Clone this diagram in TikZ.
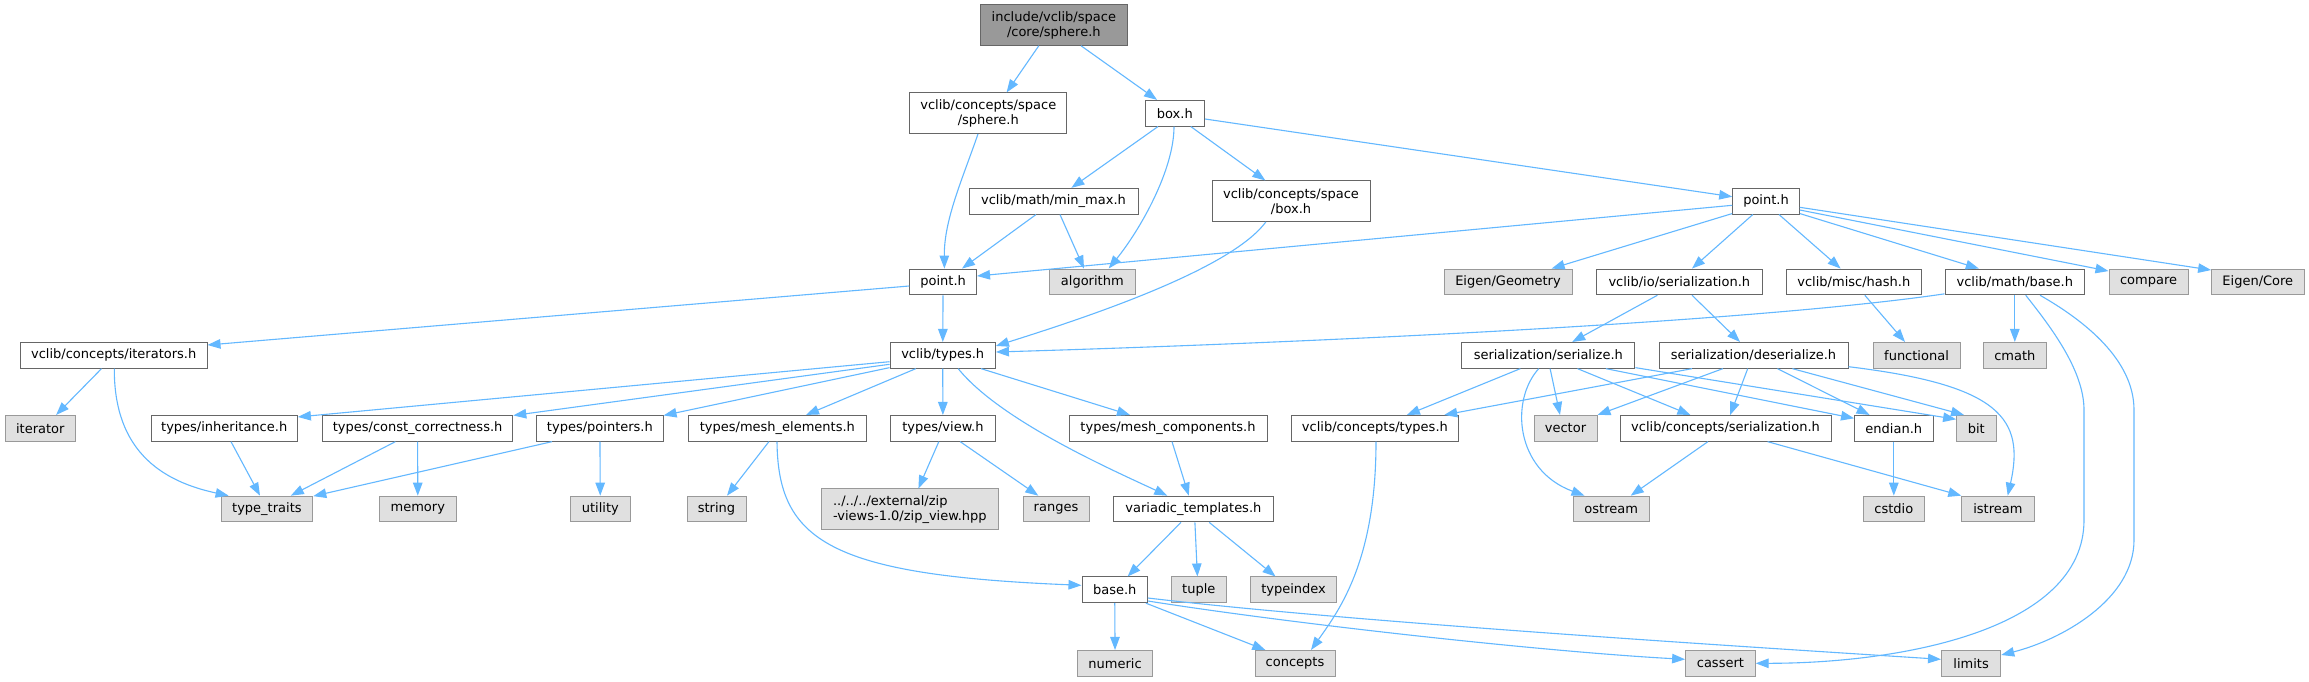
\documentclass[tikz,border=0pt]{standalone}
\usepackage{fontspec}
\setmainfont{DejaVu Sans}
\usetikzlibrary{arrows.meta}
\definecolor{edgec}{HTML}{63B8FF}
\definecolor{nodedraw}{HTML}{666666}
\definecolor{extdraw}{HTML}{999999}
\definecolor{extfill}{HTML}{E0E0E0}
\definecolor{rootfill}{HTML}{999999}
\begin{document}
\begin{tikzpicture}[x=1pt,y=1pt,
 bx/.style={rectangle, inner sep=0pt, line width=1pt, minimum height=25.7pt, font=\fontsize{13}{15}\selectfont, text=black},
 nrm/.style={bx, fill=white, draw=nodedraw},
 ext/.style={bx, fill=extfill, draw=extdraw},
 rootn/.style={bx, fill=rootfill, draw=nodedraw},
 wd/.style={minimum width=#1pt},
 tall/.style={minimum height=40.5pt, align=center},
 ed/.style={draw=edgec, line width=1.1pt, -{Triangle[length=13pt,width=9.5pt]}}]
\fill[white] (0,0) rectangle (2309,-681);
\useasboundingbox (0,0) rectangle (2309,-681);
% nodes
\node[rootn,wd=146.4,tall] (root) at (1053.8,-25) {include/vclib/space\\/core/sphere.h};
\node[nrm,wd=157,tall] (cssph) at (988.3,-113.2) {vclib/concepts/space\\/sphere.h};
\node[nrm,wd=59.6] (box) at (1174.8,-113.2) {box.h};
\node[nrm,wd=169] (minmax) at (1053.5,-201.2) {vclib/math/min\_max.h};
\node[nrm,wd=158,tall] (csbox) at (1291,-201.2) {vclib/concepts/space\\/box.h};
\node[nrm,wd=66.6] (pointR) at (1766,-201.2) {point.h};
\node[nrm,wd=66.8] (pointL) at (943.1,-281.9) {point.h};
\node[ext,wd=85.5] (algorithm) at (1092.3,-281.9) {algorithm};
\node[ext,wd=128] (eigeng) at (1508,-281.9) {Eigen/Geometry};
\node[nrm,wd=165.5] (ioser) at (1679.3,-281.9) {vclib/io/serialization.h};
\node[nrm,wd=135.6] (hash) at (1853.8,-281.9) {vclib/misc/hash.h};
\node[nrm,wd=139.6] (mbase) at (2014.8,-281.9) {vclib/math/base.h};
\node[ext,wd=79] (compare) at (2148.5,-281.9) {compare};
\node[ext,wd=92.4] (eigenc) at (2257.8,-281.9) {Eigen/Core};
\node[nrm,wd=186.6] (iters) at (113.7,-355.3) {vclib/concepts/iterators.h};
\node[nrm,wd=105.4] (types) at (942.7,-355.3) {vclib/types.h};
\node[nrm,wd=173.3] (ser) at (1548.3,-355.3) {serialization/serialize.h};
\node[nrm,wd=189] (deser) at (1753.5,-355.3) {serialization/deserialize.h};
\node[ext,wd=87] (functional) at (1916.5,-355.3) {functional};
\node[ext,wd=62.5] (cmath) at (2014.8,-355.3) {cmath};
\node[ext,wd=70.4] (iterator) at (40.3,-428.3) {iterator};
\node[nrm,wd=146.4] (inher) at (224.2,-428.3) {types/inheritance.h};
\node[nrm,wd=190.4] (constc) at (417.6,-428.3) {types/const\_correctness.h};
\node[nrm,wd=126.3] (pointers) at (599.9,-428.3) {types/pointers.h};
\node[nrm,wd=178.8] (meshel) at (777.4,-428.3) {types/mesh\_elements.h};
\node[nrm,wd=104.2] (view) at (942.9,-428.3) {types/view.h};
\node[nrm,wd=198] (meshcomp) at (1168,-428.3) {types/mesh\_components.h};
\node[nrm,wd=167.7] (ctypes) at (1374.9,-428.3) {vclib/concepts/types.h};
\node[ext,wd=63] (vector) at (1565.5,-428.3) {vector};
\node[nrm,wd=211] (cser) at (1725.5,-428.3) {vclib/concepts/serialization.h};
\node[nrm,wd=78.5] (endian) at (1893.8,-428.3) {endian.h};
\node[ext,wd=39.4] (bit) at (1976.3,-428.3) {bit};
\node[ext,wd=91.8] (typetraits) at (266.9,-509) {type\_traits};
\node[ext,wd=77.6] (memory) at (417.8,-509) {memory};
\node[ext,wd=60.6] (utility) at (600.3,-509) {utility};
\node[ext,wd=59] (string) at (716.5,-509) {string};
\node[ext,wd=177.5,tall,align=left] (zip) at (909.8,-509.2) {../../../external/zip\\-views-1.0/zip\_view.hpp};
\node[ext,wd=66] (ranges) at (1056,-509) {ranges};
\node[nrm,wd=159.2] (variadic) at (1193.4,-509) {variadic\_templates.h};
\node[ext,wd=75.7] (ostream) at (1611.2,-509) {ostream};
\node[ext,wd=61.5] (cstdio) at (1893.8,-509) {cstdio};
\node[ext,wd=72.2] (istream) at (1997.9,-509) {istream};
\node[nrm,wd=65.4] (base) at (1114.7,-589.8) {base.h};
\node[ext,wd=55.5] (tuple) at (1198.8,-589.8) {tuple};
\node[ext,wd=86.2] (typeindex) at (1293.6,-589.8) {typeindex};
\node[ext,wd=75] (numeric) at (1115.1,-663.3) {numeric};
\node[ext,wd=80] (concepts) at (1295,-663.3) {concepts};
\node[ext,wd=69.6] (cassert) at (1720.4,-663.3) {cassert};
\node[ext,wd=59.2] (limits) at (1971.1,-663.3) {limits};
% edges
\draw[ed] ([xshift=-15pt]root.south) -- ([xshift=18.3pt]cssph.north);
\draw[ed] ([xshift=27.2pt]root.south) -- ([xshift=-17.8pt]box.north);
\draw[ed] ([xshift=-10.3pt]cssph.south) .. controls +(-16,-46.3) and +(-0.4,48.7) .. ([xshift=1.3pt]pointL.north);
\draw[ed] ([xshift=-16.8pt]box.south) -- ([xshift=17.9pt]minmax.north);
\draw[ed] ([xshift=-0.8pt]box.south) .. controls +(0,-43.7) and +(31.3,38.7) .. ([xshift=16.4pt]algorithm.north);
\draw[ed] ([xshift=16pt]box.south) -- ([xshift=-25.7pt]csbox.north);
\draw[ed] ([yshift=-5.8pt]box.east) -- ([yshift=4.5pt]pointR.west);
\draw[ed] ([xshift=-17.5pt]minmax.south) -- ([xshift=18.9pt]pointL.north);
\draw[ed] ([xshift=6.5pt]minmax.south) -- ([xshift=-8.3pt]algorithm.north);
\draw[ed] ([xshift=-25.2pt]csbox.south) .. controls +(-35.8,-48.7) and +(84.6,26.7) .. ([yshift=-4pt]types.north east);
\draw[ed] ([yshift=-4.1pt]pointR.west) -- ([yshift=5.9pt]pointL.east);
\draw[ed] ([yshift=1pt]pointR.south west) -- ([xshift=43.6pt]eigeng.north);
\draw[ed] ([xshift=-13.2pt]pointR.south) -- ([xshift=12.7pt]ioser.north);
\draw[ed] ([xshift=13pt]pointR.south) -- ([xshift=-13.2pt]hash.north);
\draw[ed] ([yshift=1pt]pointR.south east) -- ([xshift=-36pt]mbase.north);
\draw[ed] ([yshift=-8.8pt]pointR.east) -- ([yshift=-2.5pt]compare.north west);
\draw[ed] ([yshift=-6.1pt]pointR.east) -- ([yshift=-1.5pt]eigenc.north west);
\draw[ed] ([yshift=-4.1pt]pointL.west) -- ([yshift=10.3pt]iters.east);
\draw[ed] (pointL) -- (types);
\draw[ed] ([yshift=1.4pt]mbase.south west) .. controls +(-195.3,-28.7) and +(304.6,9) .. ([yshift=3.3pt]types.east);
\draw[ed] (mbase) -- (cmath);
\draw[ed] ([xshift=10.9pt]mbase.south) .. controls +(24.3,-30.7) and +(0,40) .. (2084,-410) -- (2084,-520) .. controls +(0,-110) and +(144.8,0) .. (cassert.east);
\draw[ed] ([xshift=25.2pt]mbase.south) .. controls +(45,-25.7) and +(0,50) .. (2134,-410) -- (2134,-540) .. controls +(0,-60) and +(59.3,15) .. ([yshift=8.3pt]limits.east);
\draw[ed] ([xshift=-21.9pt]ioser.south) -- ([xshift=23.9pt]ser.north);
\draw[ed] ([xshift=12.7pt]ioser.south) -- ([xshift=-13.5pt]deser.north);
\draw[ed] ([xshift=11pt]hash.south) -- ([xshift=-11.5pt]functional.north);
\draw[ed] ([xshift=-12.2pt]iters.south) -- ([xshift=15.8pt]iterator.north);
\draw[ed] ([xshift=0.6pt]iters.south) .. controls +(-0.3,-71.7) and +(-78.6,16.7) .. ([xshift=-38.3pt]typetraits.north);
\draw[ed] ([yshift=-6.4pt]types.west) -- ([yshift=-2pt]inher.north east);
\draw[ed] ([yshift=-9pt]types.west) -- ([yshift=-0.5pt]constc.north east);
\draw[ed] ([yshift=1pt]types.south west) -- ([yshift=-0.5pt]pointers.north east);
\draw[ed] ([xshift=-26.9pt]types.south) -- ([xshift=28.6pt]meshel.north);
\draw[ed] (types) -- (view);
\draw[ed] ([xshift=15.5pt]types.south) .. controls +(41.8,-51.7) and +(-57.3,26.7) .. ([xshift=-26.1pt]variadic.north);
\draw[ed] ([xshift=38.4pt]types.south) -- ([xshift=-38pt]meshcomp.north);
\draw[ed] ([xshift=6.8pt]inher.south) -- ([xshift=-6.9pt]typetraits.north);
\draw[ed] ([xshift=-22.2pt]constc.south) -- ([xshift=23.9pt]typetraits.north);
\draw[ed] (constc) -- (memory);
\draw[ed] ([xshift=-47.9pt]pointers.south) -- ([yshift=-0.5pt]typetraits.north east);
\draw[ed] (pointers) -- (utility);
\draw[ed] ([xshift=-8.5pt]meshel.south) -- ([xshift=10.5pt]string.north);
\draw[ed] ([xshift=-0.4pt]meshel.south) .. controls +(1,-99) and +(-252,10.3) .. ([yshift=4.5pt]base.west);
\draw[ed] ([xshift=-4.1pt]view.south) -- ([xshift=8.6pt]zip.north);
\draw[ed] ([xshift=17.3pt]view.south) -- ([xshift=-17.7pt]ranges.north);
\draw[ed] ([xshift=4pt]meshcomp.south) -- ([xshift=-4.6pt]variadic.north);
\draw[ed] ([xshift=-12.4pt]variadic.south) -- ([xshift=12.9pt]base.north);
\draw[ed] ([xshift=1.5pt]variadic.south) -- ([xshift=-1.4pt]tuple.north);
\draw[ed] ([xshift=15.8pt]variadic.south) -- ([xshift=-18.1pt]typeindex.north);
\draw[ed] (base) -- (numeric);
\draw[ed] ([xshift=-2pt]base.south east) -- ([xshift=-29.7pt]concepts.north);
\draw[ed] ([yshift=-11.2pt]base.east) .. controls +(152.6,-24) and +(-135.6,7.3) .. ([yshift=4pt]cassert.west);
\draw[ed] ([yshift=-8.2pt]base.east) .. controls +(202.6,-24) and +(-191.5,12.3) .. ([yshift=4pt]limits.west);
\draw[ed] ([xshift=1.1pt]ctypes.south) .. controls +(0,-118.3) and +(29,40.7) .. ([xshift=16pt]concepts.north);
\draw[ed] ([xshift=-28pt]ser.south) -- ([xshift=32pt]ctypes.north);
\draw[ed] ([xshift=-9.6pt]ser.south) .. controls +(-28.7,-31.7) and +(-69.5,25.7) .. ([xshift=-26.7pt]ostream.north);
\draw[ed] ([xshift=1.8pt]ser.south) -- ([xshift=-5.5pt]vector.north);
\draw[ed] ([xshift=29.2pt]ser.south) -- ([xshift=-35.1pt]cser.north);
\draw[ed] ([xshift=57.6pt]ser.south) -- ([yshift=10pt]endian.west);
\draw[ed] ([yshift=1pt]ser.south east) -- ([yshift=9pt]bit.west);
\draw[ed] ([xshift=-61.5pt]deser.south) -- ([xshift=69.3pt]ctypes.north);
\draw[ed] ([xshift=-30.7pt]deser.south) -- (vector.north east);
\draw[ed] ([xshift=-5.8pt]deser.south) -- ([xshift=4.7pt]cser.north);
\draw[ed] ([xshift=24pt]deser.south) -- ([xshift=-24.2pt]endian.north);
\draw[ed] ([xshift=38.9pt]deser.south) -- ([xshift=-12.3pt]bit.north);
\draw[ed] ([yshift=-11.4pt]deser.east) .. controls +(152,-18.3) and +(17.3,76.7) .. ([xshift=9.8pt]istream.north);
\draw[ed] ([xshift=-17.6pt]cser.south) -- ([xshift=19.5pt]ostream.north);
\draw[ed] ([xshift=42.1pt]cser.south) -- (istream.north west);
\draw[ed] (endian) -- (cstdio);
\end{tikzpicture}
\end{document}
